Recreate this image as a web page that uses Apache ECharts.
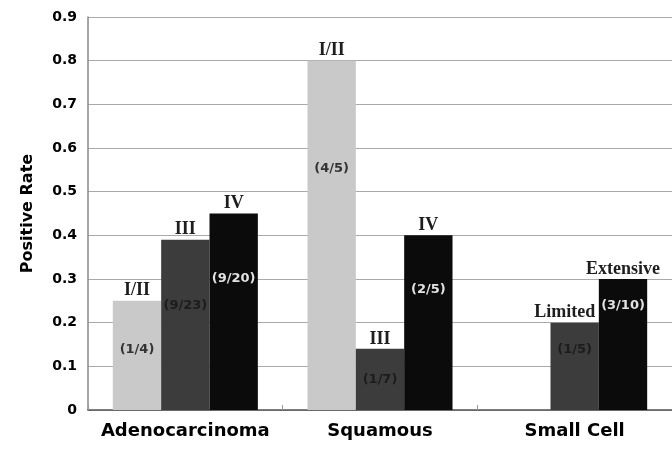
<!DOCTYPE html>
<html>
<head>
<meta charset="utf-8">
<script src="https://cdn.jsdelivr.net/npm/echarts@6/dist/echarts.min.js"></script>
<style>
  html, body { margin: 0; padding: 0; background: #fff; }
  #main { width: 672px; height: 451px; }
</style>
</head>
<body>
<div id="main"></div>
<script>
// data
var categories = ['Adenocarcinoma', 'Squamous', 'Small Cell'];
var rateI = [0.25, 0.80, '-'];
var rateIII = [0.39, 0.14, 0.20];
var rateIV = [0.45, 0.40, 0.30];
var stageI = ['I/II', 'I/II', ''];
var stageIII = ['III', 'III', 'Limited'];
var stageIV = ['IV', 'IV', 'Extensive'];
var countI = ['(1/4)', '(4/5)', ''];
var countIII = ['(9/23)', '(1/7)', '(1/5)'];
var countIV = ['(9/20)', '(2/5)', '(3/10)'];

var myChart = echarts.init(document.getElementById('main'));

var heavy = 'DejaVu Sans';

// where the count sits inside each bar (fraction from bar top)
var posI = ['45%', '31%', '50%'];
var posIII = ['39%', '51%', '31%'];
var posIV = ['33%', '31%', '20%'];

function barSeries(name, stack, values, counts, pos, color, textColor) {
    return {
        name: name,
        type: 'bar',
        stack: stack,
        barGap: 0,
        barCategoryGap: '25.5%',
        itemStyle: {color: color},
        data: values.map(function (v, i) {
            return {
                value: v,
                label: {
                    show: counts[i] !== '',
                    position: ['50%', pos[i]],
                    align: 'center',
                    verticalAlign: 'middle',
                    formatter: counts[i],
                    color: textColor,
                    fontSize: 13,
                    fontFamily: heavy,
                    fontWeight: 'bold'
                }
            };
        })
    };
}

function topSeries(stack, values, names) {
    return {
        type: 'bar',
        stack: stack,
        barGap: 0,
        barCategoryGap: '25.5%',
        itemStyle: {color: 'transparent'},
        silent: true,
        data: values.map(function (v, i) {
            return {
                value: v === '-' ? '-' : 0,
                label: {
                    show: names[i] !== '',
                    position: 'top',
                    distance: 1,
                    offset: names[i] === 'Limited' ? [-10, 0] : [0, 0],
                    formatter: names[i],
                    color: '#1e1e1e',
                    fontSize: 18,
                    fontFamily: 'Liberation Serif',
                    fontWeight: 'bold'
                }
            };
        })
    };
}

var option = {
    backgroundColor: '#fff',
    animation: false,
    grid: {left: 88, right: -3, top: 17, bottom: 41},
    xAxis: {
        type: 'category',
        data: categories,
        axisLine: {lineStyle: {color: '#555', width: 1.5}},
        axisTick: {show: true, inside: true, length: 5, lineStyle: {color: '#999'}},
        axisLabel: {
            interval: 0,
            color: '#000',
            fontSize: 18,
            fontFamily: heavy,
            fontWeight: 'bold',
            margin: 12
        }
    },
    yAxis: {
        type: 'value',
        min: 0,
        max: 0.9,
        interval: 0.1,
        name: 'Positive Rate',
        nameLocation: 'middle',
        nameGap: 52,
        nameTextStyle: {color: '#000', fontSize: 16, fontFamily: heavy, fontWeight: 'bold'},
        axisLine: {show: true, lineStyle: {color: '#888', width: 1.5}},
        axisTick: {show: false},
        splitLine: {lineStyle: {color: '#aaa', width: 1}},
        axisLabel: {
            color: '#000',
            fontSize: 14,
            fontFamily: heavy,
            fontWeight: 'bold',
            margin: 11,
            formatter: function (v) { return v === 0 ? '0' : v.toFixed(1); }
        }
    },
    series: [
        barSeries('I/II', 's1', rateI, countI, posI, '#c9c9c9', '#333'),
        barSeries('III', 's2', rateIII, countIII, posIII, '#3c3c3c', '#1c1c1c'),
        barSeries('IV', 's3', rateIV, countIV, posIV, '#0b0b0b', '#e2e2e2'),
        topSeries('s1', rateI, stageI),
        topSeries('s2', rateIII, stageIII),
        topSeries('s3', rateIV, stageIV)
    ]
};

myChart.setOption(option);
</script>
</body>
</html>
